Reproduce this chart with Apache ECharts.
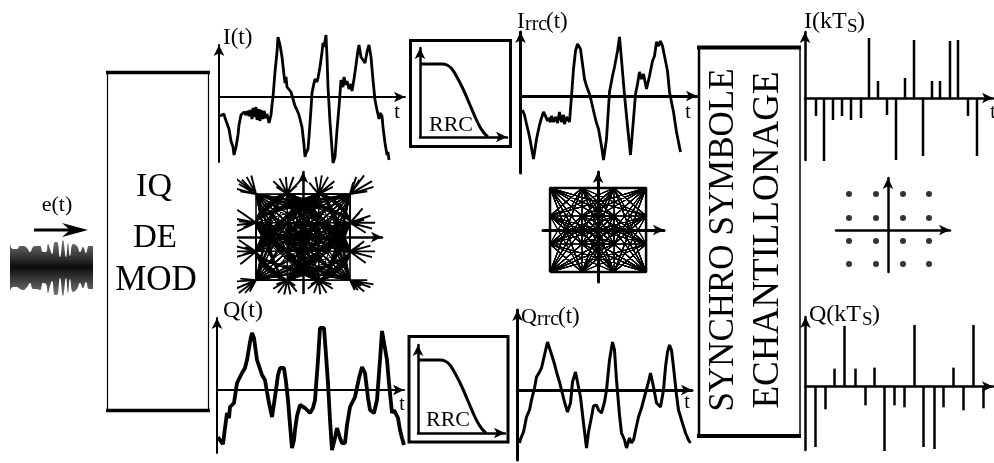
<!DOCTYPE html>
<html><head><meta charset="utf-8">
<style>html,body{margin:0;padding:0;background:#fff}#c{width:994px;height:463px;filter:blur(0.45px)}</style>
<script src="https://cdn.jsdelivr.net/npm/echarts@6/dist/echarts.min.js"></script>
</head><body><div id="c"></div>
<script>
// --- values ---
const traceI = [[1,-19],[3,-20],[5,-17],[6,-21],[8,-22],[10,-32],[12,-44],[14,-50],[15,-58],[16,-60],[17,-50],[19,-38],[20,-28],[22,-18],[24,-20],[25,-15],[27,-18],[28,-14],[30,-19],[31,-13],[33,-22],[34,-11],[36,-20],[37,-10],[38,-23],[40,-12],[41,-24],[42,-13],[44,-22],[45,-14],[47,-21],[48,-17],[50,-26],[52,-18],[53,-8],[54,0],[56,25],[58,45],[59,60],[61,52],[63,40],[65,22],[66,14],[67,20],[68,10],[70,11],[72,5],[74,-2],[76,-9],[78,-13],[80,-18],[81,-22],[83,-30],[85,-48],[86,-60],[87,-56],[89,-52],[90,-40],[92,-12],[93,4],[95,14],[96,18],[98,15],[99,19],[101,30],[103,45],[104,54],[105,50],[107,62],[108,40],[109,10],[111,-25],[113,-52],[114,-66],[116,-60],[118,-33],[120,-10],[122,17],[124,10],[125,20],[127,12],[128,16],[130,8],[132,13],[133,6],[135,18],[137,32],[139,47],[140,52],[142,40],[144,37],[146,34],[148,45],[150,52],[152,40],[154,17],[156,-3],[158,-13],[160,-22],[161,-16],[163,-19],[164,-30],[166,-46],[167,-45],[168,-58],[169,-55],[170,-63]];
const traceQ = [[1,-47],[3,-50],[6,-54],[8,-38],[10,-23],[12,-28],[13,-17],[15,-19],[17,-13],[20,7],[23,13],[25,17],[28,22],[30,30],[33,48],[35,57],[37,52],[40,30],[42,24],[45,15],[48,10],[50,-2],[52,-13],[55,-27],[58,-7],[61,15],[63,22],[67,22],[69,8],[71,-10],[73,-35],[75,-58],[77,-50],[78,-40],[80,-26],[83,-15],[85,-17],[88,-18],[90,-20],[93,-23],[96,-18],[98,-10],[101,30],[103,62],[107,62],[109,35],[111,7],[113,-30],[115,-60],[118,-48],[120,-38],[123,-48],[125,-53],[128,-53],[130,-35],[133,-17],[135,-15],[138,-7],[142,12],[145,23],[148,17],[151,-8],[153,-20],[157,-23],[160,-10],[163,30],[165,59],[167,59],[170,30],[172,7],[175,-23],[177,-20],[178,-18],[181,-28],[183,-40],[185,-48],[187,-55]];
const traceIrrc = [[2,-14],[4,-19],[6,-28],[8,-36],[10,-46],[13,-63],[15,-50],[16,-43],[19,-29],[21,-22],[23,-16],[25,-20],[27,-25],[28,-22],[30,-26],[31,-20],[33,-26],[35,-21],[37,-27],[39,-16],[41,-26],[43,-19],[44,-28],[46,-21],[49,-26],[51,0],[53,27],[55,45],[57,52],[60,47],[62,32],[64,17],[66,10],[69,2],[71,-6],[74,-19],[76,-27],[78,-33],[81,-50],[83,-64],[85,-50],[86,-43],[89,4],[92,20],[94,29],[97,45],[99,59],[100,48],[102,47],[104,1],[107,-30],[110,-59],[113,-23],[115,2],[117,12],[119,24],[121,17],[123,22],[126,7],[129,20],[132,35],[134,40],[136,54],[138,50],[140,55],[142,50],[144,52],[147,25],[149,4],[153,-16],[156,-36],[160,-56]];
const traceQrrc = [[2,-53],[3,-49],[4,-47],[6,-42],[7,-44],[9,-27],[12,-20],[14,-10],[17,2],[19,13],[22,18],[24,22],[27,35],[30,48],[32,42],[34,40],[37,26],[39,18],[42,8],[44,0],[47,-12],[50,-22],[53,-13],[55,8],[58,18],[60,8],[63,-7],[66,-33],[69,-58],[71,-42],[74,-27],[76,-16],[79,-15],[81,-20],[84,-23],[87,-12],[89,0],[92,30],[95,48],[97,40],[99,10],[102,-25],[104,-43],[107,-50],[109,-58],[112,-48],[114,-53],[116,-50],[119,-36],[121,-27],[124,-18],[128,-3],[131,8],[133,17],[136,3],[139,-13],[143,-17],[146,0],[148,23],[150,38],[152,45],[154,40],[156,23],[159,-5],[161,-20],[164,-30],[168,-43],[171,-50],[173,-53]];
const rrcCurve = [[0,73],[22,73],[27,72],[32,68],[38,58],[44,46],[50,32],[56,18],[60,10],[64,4],[68,0]];
const symTI = [11,19,28,37,46,56,64,73,82,91,100,109,118,127,135,145,153,163,172];
const symVI = [-18,-63,-22,-18,-22,-20,60,17,-17,-62,20,58,-58,17,17,57,58,-18,-58];
const symTQ = [10,20,29,39,50,60,69,79,89,99,109,118,129,138,148,158,168,178];
const symVQ = [-61,-23,18,61,18,-19,19,-65,-19,-21,62,-61,-63,-21,19,-24,62,-22];
const dotX = [-39,-12,15,41];
const dotY = [36,12,-11,-34];
const consI = [-3,3,-1,1,3,-3,1,-1,-3,3,1,-3,-1,3,-3,-1,1,3,1,-1,-3,1,3,-1,-3,3,-3,3,1,-1,1,-3,3,-1,-3,1,-1,3,1,-3,-3,-3,-1,1,3,3,3,1,-1,-3,1,-3,3,-1,1,3,-3,-1,3,1,-1,-3,3,1,-3,1,-1,3,-3,-1,1,-3,3,-1,-1,1,1,-3,3,3,-3,-1,3,1,-3,-1,1,3,-1,-3,3,1,-1,1,-3,3,-3,-1,1,3];
const consQ = [3,-3,1,-1,3,-3,3,-3,1,1,-1,-3,3,-1,-1,-3,3,-3,1,3,-3,-1,1,1,3,-3,1,-1,3,-1,-3,1,3,-3,-1,1,3,-1,-3,3,1,-1,-3,-3,-3,-1,1,3,3,3,-3,1,-1,3,1,-3,3,-1,3,-3,1,-3,1,-1,3,1,-3,-3,-1,1,3,-3,3,1,-1,-1,1,3,-3,1,-1,-3,3,-1,1,3,-3,1,-3,-1,-1,3,1,-3,3,1,3,-3,-1,3];
const tuftHubs = [[-3,3],[-1,3],[1,3],[3,3],[-3,1],[3,1],[-3,-1],[3,-1],[-3,-3],[-1,-3],[1,-3],[3,-3]];
const tuftEnds = [
 [[-4.3,4.1],[-4.1,3.7],[-4.4,3.4],[-3.6,4.2],[-3.3,4.3],[-4,3.2],[-3.9,4]],
 [[-1.9,3.9],[-1.5,4.1],[-1.1,4.2],[-.6,4.2],[-.2,3.9],[-1.7,3.5],[-.4,3.6]],
 [[.4,3.8],[.8,4.2],[1.2,4.3],[1.6,4.2],[2,3.9],[.6,3.5],[1.9,3.5]],
 [[3.4,4.2],[3.9,4.3],[4.4,3.9],[4.5,3.5],[4.1,3.2],[3.6,4],[3.2,3.8]],
 [[-4.2,1.9],[-4.4,1.3],[-4.5,.8],[-4.2,.4],[-3.9,1.7],[-3.8,.7],[-4.1,1.1]],
 [[3.8,2],[4.3,1.5],[4.6,1],[4.4,.6],[4,.3],[3.9,1.2],[3.6,1.7]],
 [[-4.1,-.2],[-4.4,-.6],[-4.5,-1],[-4.3,-1.4],[-4,-1.9],[-3.8,-1.2],[-3.7,-.7]],
 [[3.9,-.3],[4.3,-.6],[4.6,-1],[4.4,-1.4],[4,-1.8],[3.7,-1.2],[3.6,-.6]],
 [[-4.4,-3.1],[-4.3,-3.6],[-4.1,-3.9],[-3.7,-3.9],[-3.4,-3.8],[-4,-2.9],[-3.9,-3.4]],
 [[-1.9,-3.6],[-1.6,-3.9],[-1.2,-4],[-.8,-4],[-.4,-3.8],[-1.7,-3.3],[-.5,-3.4]],
 [[.3,-3.6],[.7,-3.9],[1.1,-4],[1.5,-3.9],[1.9,-3.6],[.5,-3.3],[1.8,-3.3]],
 [[3.5,-3.7],[3.9,-3.8],[4.3,-3.5],[4.5,-3.3],[4.1,-3],[3.7,-3.4],[3.3,-3.7]]
];
const carrierT = [0,3,7,10,13,17,20,23,26,30,33,36,38,40,42,45,47,50,53,56,58,60,63,67,70,73,76,79,83];
const carrierUp = [23,18,18,21,21,19,15,20,21,21,15,15,23,18,13,25,25,10,27,10,24,11,23,21,15,20,14,21,21];
const carrierDown = [-24,-20,-20,-22,-23,-20,-16,-22,-22,-23,-16,-17,-26,-19,-14,-28,-28,-11,-29,-11,-26,-12,-25,-22,-16,-21,-15,-22,-22];

// --- layout helpers ---
const grids=[],xs=[],ys=[],series=[];
function panel(l,t,r,b,xMin,xMax,yMin,yMax,w){
  const i=grids.length;
  grids.push({left:l,top:t,width:r-l,height:b-t,containLabel:false,show:false});
  const line={show:true,onZero:true,symbol:['none','arrow'],symbolSize:[8,11],lineStyle:{color:'#000',width:w}};
  const base={type:'value',gridIndex:i,axisLine:line,axisTick:{show:false},axisLabel:{show:false},splitLine:{show:false}};
  xs.push({...base,min:xMin,max:xMax});
  ys.push({...base,min:yMin,max:yMax});
  return i;
}
function lineS(i,data,w,extra){
  series.push(Object.assign({type:'line',xAxisIndex:i,yAxisIndex:i,data,symbol:'none',clip:false,silent:true,lineStyle:{color:'#000',width:w}},extra||{}));
}
function stems(i,T,V){
  series.push({type:'bar',xAxisIndex:i,yAxisIndex:i,barWidth:2.5,silent:true,clip:false,itemStyle:{color:'#000'},data:T.map((t,k)=>[t,V[k]])});
}

// time traces
lineS(panel(219,45,405,162,0,186,-65,52,2),traceI,2.8);
lineS(panel(520.5,32,697,173,0,176.5,-77,64,3),traceIrrc,2.8);
lineS(panel(217,318,404,453,0,187,-63,72,2),traceQ,3.8);
lineS(panel(517.5,310,692,460,0,174.5,-70,80,3),traceQrrc,3);

// RRC filters
lineS(panel(420,48,507,137,0,87,0,89,2.5),rrcCurve,3,{smooth:0.3});
lineS(panel(418,345,505,433,0,87,0,88,2.5),rrcCurve,3,{smooth:0.3});

// sampled symbols
stems(panel(805,32,993,160,0,188,-62,66,2.5),symTI,symVI);
stems(panel(805.5,317,993,450,0,187.5,-64,70,2.5),symTQ,symVQ);

// constellations
const path=consI.map((v,k)=>[v,consQ[k]]).filter(p=>p[1]!==undefined);
const variants=[p=>p,p=>[p[0],-p[1]],p=>[-p[0],p[1]],p=>[p[1],p[0]],p=>[-p[1],p[0]],p=>[p[1],-p[0]]];
const tufts=[];
tuftHubs.forEach((h,k)=>tuftEnds[k].forEach(e=>{tufts.push(h,e,[null,null]);}));
const left=panel(238,172,382,293,-4.15,5.04,-3.9,4.54,2.5);
variants.forEach(f=>lineS(left,path.map(f),1.1,{smooth:0.35}));
lineS(left,tufts,1.9,{connectNulls:false});
const mid=panel(543,172,664,282,-3.44,4.12,-3.71,4.14,3);
variants.forEach(f=>lineS(mid,path.map(f),1.05));
lineS(mid,[[-3,-3],[3,-3],[3,3],[-3,3],[-3,-3]],2.5);
const right=panel(836,178,950,272,-52,62,-42,52,2.5);
const dots=[];dotX.forEach(x=>dotY.forEach(y=>dots.push([x,y])));
series.push({type:'scatter',xAxisIndex:right,yAxisIndex:right,data:dots,symbolSize:6,silent:true,itemStyle:{color:'#000'}});

// incoming signal e(t)
const eG=grids.length;
grids.push({left:10,top:237,width:83,height:60,show:false});
const hid={type:'value',gridIndex:eG,show:false,splitLine:{show:false}};
xs.push({...hid,min:0,max:83});ys.push({...hid,min:-30,max:30});
const grad=(a,b)=>new echarts.graphic.LinearGradient(0,0,0,1,[{offset:0,color:a},{offset:1,color:b}]);
const zip=(T,V)=>T.map((t,k)=>[t,V[k]]);
series.push({type:'line',xAxisIndex:eG,yAxisIndex:eG,symbol:'none',smooth:0.5,silent:true,lineStyle:{width:0},data:zip(carrierT,carrierUp),areaStyle:{opacity:1,color:grad('#777','#0c0c0c')}});
series.push({type:'line',xAxisIndex:eG,yAxisIndex:eG,symbol:'none',smooth:0.5,silent:true,lineStyle:{width:0},data:zip(carrierT,carrierDown),areaStyle:{opacity:1,color:grad('#0c0c0c','#777')}});

// --- drawing furniture ---
const F='"Liberation Serif","Times New Roman",serif';
const txt=(x,y,s,size,o)=>({type:'text',z:20,x,y,style:Object.assign({text:s,font:size+'px '+F,fill:'#000',textAlign:'left',textVerticalAlign:'middle'},o||{})});
const ln=(x1,y1,x2,y2,w)=>({type:'line',z:15,shape:{x1,y1,x2,y2},style:{stroke:'#000',lineWidth:w}});
const box=(x,y,w,h,lw)=>({type:'rect',z:15,shape:{x,y,width:w,height:h},style:{fill:'none',stroke:'#000',lineWidth:lw}});
const c={textAlign:'center'};
const graphic=[
  ln(107.5,72,107.5,411,1.2),ln(208.5,72,208.5,411,1.2),ln(106,72.5,210,72.5,3.5),ln(106,410.5,210,410.5,3.5),
  ln(699,47,699,437,2.5),ln(800,47,800,437,1.5),ln(697,47.5,801,47.5,4),ln(697,436,801,436,4),
  box(410.5,40.5,100,106,3),box(409,336.5,99,105.5,3),
  txt(154,187,'IQ',34,c),txt(155,238,'DE',33,c),txt(156,281,'MOD',35,c),
  Object.assign(txt(724,240,'SYNCHRO SYMBOLE',35,c),{rotation:Math.PI/2}),
  Object.assign(txt(768,240,'ECHANTILLONAGE',37,c),{rotation:Math.PI/2}),
  txt(451,125,'RRC',22,c),txt(448,420,'RRC',22,c),
  txt(223,38,'I(t)',23),txt(223,311,'Q(t)',24),
  txt(397,113,'t',20,c),txt(402,405,'t',20,c),txt(688,113,'t',20,c),txt(687,403,'t',20,c),txt(993,113,'t',20,c),
  txt(517,22,'I',23),txt(525,25,'rrc',20),txt(546,22,'(t)',23),
  txt(521,317,'Q',22),txt(537,320,'rrc',20),txt(558,317,'(t)',23),
  txt(804,22,'I(kT',24),txt(847,27,'S',19),txt(857,22,')',24),
  txt(809,315,'Q(kT',24),txt(862,320,'S',19),txt(872,315,')',24),
  txt(57,205,'e(t)',22,c),
  ln(34,230,72,230,3),
  {type:'polygon',z:15,shape:{points:[[88,230],[62,223],[70,230],[62,237]]},style:{fill:'#000'}}
];

const chart=echarts.init(document.getElementById('c'),null,{renderer:'canvas'});
chart.setOption({animation:false,backgroundColor:'#fff',grid:grids,xAxis:xs,yAxis:ys,series,graphic});
</script></body></html>
